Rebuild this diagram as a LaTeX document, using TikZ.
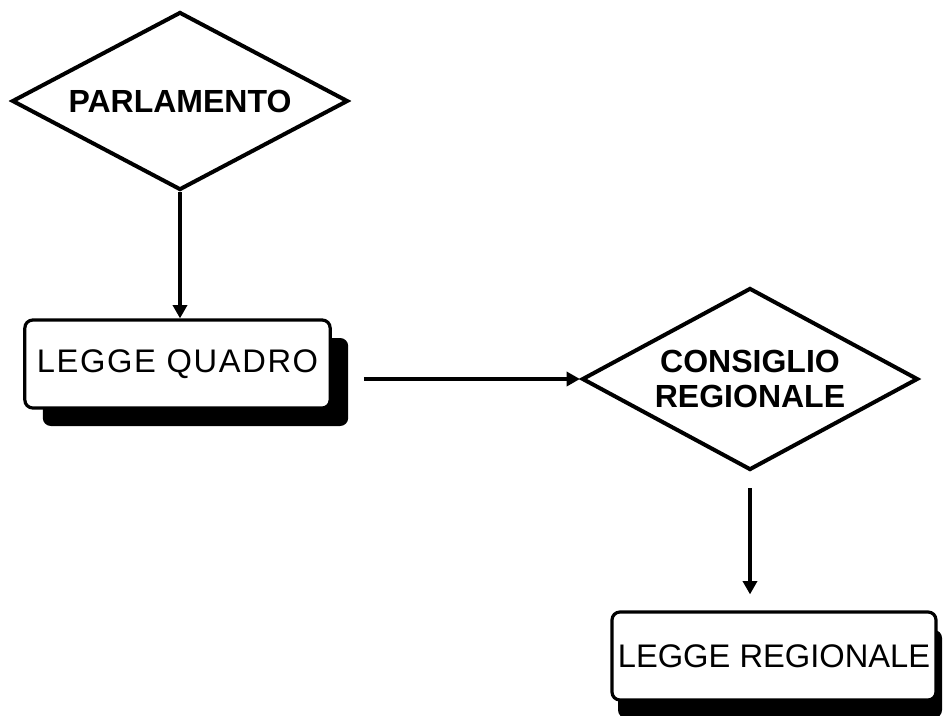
\documentclass[tikz,border=0pt]{standalone}
\usepackage{fontspec}
\setmainfont{Liberation Sans}
\usetikzlibrary{shapes.geometric, shadows, arrows.meta}
\tikzset{organ box/.style={
        draw, diamond, fill=white, line width=3pt, shape aspect=1.9,
        minimum width=252pt, minimum height=#1, inner sep=0pt,
        align=center, font=\fontsize{24}{26.5}\selectfont\bfseries,
    },
    law box/.style={
        draw, rectangle, rounded corners=6pt, fill=white, line width=2.4pt,
        minimum height=66pt, inner sep=0pt,
        font=\fontsize{24.5}{28}\selectfont,
        drop shadow={shadow xshift=#1, shadow yshift=-13.5pt, fill=black, opacity=1},
    },
    flow arrow/.style={
        line width=3pt, -{Triangle[length=10pt, width=10.5pt]},
    },
}

\begin{document}
\begin{tikzpicture}[x=0.75pt, y=-0.75pt]
    \useasboundingbox (0,0) rectangle (946,715);

    %% who decides
        \node [organ box=133.5pt] at (180,101) (parl) {PARLAMENTO};
        \node [organ box=136.5pt] at (750,379) (consiglio) {CONSIGLIO\\REGIONALE};
    %% what they produce
        \node [law box=13.5pt, minimum width=229pt] at (177.5,364) (quadro) {\addfontfeatures{LetterSpace=5}LEGGE QUADRO};
        \node [law box=4.5pt, minimum width=243pt] at (774,656) (regionale) {LEGGE REGIONALE};

    %% the flow
        \draw [flow arrow] (parl.south) -- (parl.south |- quadro.north);
        \draw [flow arrow, shorten <=24pt] (quadro.east |- consiglio.west) -- (consiglio.west);
        \draw [flow arrow, shorten <=12pt, shorten >=12pt] (consiglio.south) -- (consiglio.south |- regionale.north);

\end{tikzpicture}
\end{document}
